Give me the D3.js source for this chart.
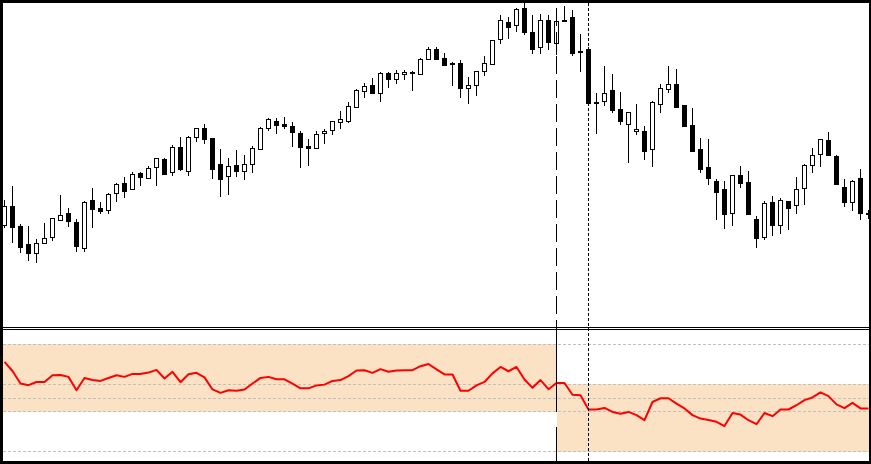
<!DOCTYPE html>
<html><head><meta charset="utf-8">
<script src="https://cdn.jsdelivr.net/npm/d3@7"></script>
<style>html,body{margin:0;padding:0;background:#fff;} svg{display:block;}</style>
</head><body><svg id="c" width="871" height="464"></svg>
<script>
// ---- data (price in chart points, oscillator in %) ----
const bars = d3.range(109);
const open = [105,124,104,86,77,87,93,110,117,108,
  82,130,122,120,137,147,141,157,152,163,
  171,158,183,159,193,202,192,166,154,165,
  159,166,181,202,209,206,204,197,184,182,
  197,200,208,209,223,239,245,237,257,251,
  256,258,256,271,281,272,267,267,242,245,
  259,266,291,308,305,322,298,283,310,287,
  310,313,279,281,228,229,240,221,206,199,
  199,181,226,241,246,225,205,181,163,149,
  141,117,155,148,111,93,128,105,129,125,
  142,165,176,190,174,143,128,152,117];
const high = [130,144,106,104,91,107,112,135,122,111,
  129,142,128,137,147,153,158,158,164,172,
  172,185,193,194,202,206,192,181,172,180,
  175,184,203,212,212,213,208,199,191,199,
  201,209,219,228,241,247,252,258,258,260,
  260,259,272,283,283,277,268,270,253,259,
  274,290,315,313,322,327,315,316,315,321,
  324,320,296,283,237,264,256,238,218,226,
  204,229,246,264,261,225,222,192,191,151,
  149,155,164,159,114,129,134,132,129,153,
  166,182,191,198,175,151,150,161,120];
const low = [102,87,77,69,67,86,89,110,103,78,
  78,102,116,116,128,132,140,144,152,144,
  156,154,159,154,188,186,151,133,135,153,
  150,157,180,199,196,201,183,162,164,181,
  186,195,201,207,223,232,237,228,242,246,
  250,239,256,271,271,265,244,232,226,234,
  254,265,286,291,298,295,276,276,280,275,
  309,274,258,227,196,224,217,205,167,195,
  170,163,217,237,222,203,178,157,145,110,
  101,104,142,115,82,90,94,96,100,116,
  125,157,163,175,146,123,119,110,111];
const close = [124,103,83,77,87,92,112,115,109,84,
  128,121,119,136,146,139,156,153,162,172,
  156,183,161,193,202,191,161,151,164,159,
  166,182,202,211,205,204,198,183,182,196,
  199,209,211,224,240,244,237,257,251,257,
  258,257,271,281,271,265,266,242,245,259,
  267,290,310,303,321,298,281,310,288,309,
  309,277,278,227,227,237,220,209,218,201,
  179,228,242,246,223,204,179,161,152,138,
  116,155,147,116,92,127,105,130,122,141,
  165,175,191,175,146,128,149,117,116];
const osc = [63.5,60.1,55.4,54.8,56.0,56.0,58.5,58.6,57.9,52.9,
  57.5,56.7,56.4,57.5,58.5,57.9,59.0,59.0,59.5,60.5,
  57.3,59.8,55.9,58.9,59.4,57.7,53.2,51.9,52.9,52.7,
  53.2,55.4,57.5,57.9,57.0,57.0,55.4,53.6,53.6,54.7,
  55.0,56.4,56.7,58.2,60.3,60.4,59.4,60.8,59.8,60.3,
  60.4,60.4,61.9,62.7,60.7,58.8,58.8,52.7,52.7,54.7,
  56.0,59.2,61.6,60.0,61.6,56.9,53.8,56.7,53.3,55.6,
  55.6,51.2,51.0,45.7,45.7,46.3,44.8,44.1,44.8,43.6,
  41.7,48.5,49.9,49.9,47.9,46.1,43.6,42.3,41.8,41.1,
  39.5,44.4,43.8,41.7,40.2,44.4,43.2,45.7,45.7,47.3,
  49.2,50.2,52.1,50.7,47.6,46.2,48.2,46.1,46.1];
const levels = [70, 55, 50, 45, 30];
const zoneFrom = [0, 69];
const zoneLo = [45, 30];
const zoneHi = [70, 55];
const dashedBar = 69;
const dottedBar = 73;

// ---- layout ----
const L = 3, R = 869, T = 3, mainB = 327, subT = 330, subB = 461;
const svg = d3.select("#c");

const x = d3.scaleBand().domain(bars).range([0.5, 0.5 + 8 * bars.length]).padding(0);
const cx = i => x(i) + x.bandwidth() / 2;
const y = d3.scaleLinear().domain([0, 327]).range([330, 3]);
const yo = d3.scaleLinear().domain([30, 70]).range([451.5, 344.5]);
const px = v => Math.floor(v) + 0.5;

const defs = svg.append("defs");
defs.append("clipPath").attr("id", "cm").append("rect").attr("x", L).attr("y", T).attr("width", R - L).attr("height", mainB - T);
defs.append("clipPath").attr("id", "cs").append("rect").attr("x", L).attr("y", subT).attr("width", R - L).attr("height", subB - subT);

// ---- sub panel ----
const sub = svg.append("g").attr("clip-path", "url(#cs)");
zoneFrom.forEach((f, i) => {
  const x0 = i === 0 ? L : cx(f);
  const x1 = i + 1 < zoneFrom.length ? cx(zoneFrom[i + 1]) : R;
  sub.append("rect").attr("x", x0).attr("width", x1 - x0)
    .attr("y", Math.floor(yo(zoneHi[i]))).attr("height", Math.floor(yo(zoneLo[i])) - Math.floor(yo(zoneHi[i])) + 1)
    .attr("fill", "#fce2c4").attr("shape-rendering", "crispEdges");
});
sub.selectAll("line.lvl").data(levels).join("line").attr("class", "lvl")
  .attr("x1", L).attr("x2", R).attr("y1", d => px(yo(d))).attr("y2", d => px(yo(d)))
  .attr("stroke", "#c0c0c0").attr("stroke-width", 1).attr("stroke-dasharray", "3,2")
  .attr("shape-rendering", "crispEdges");

// ---- main panel candles ----
const main = svg.append("g").attr("clip-path", "url(#cm)");
const cg = main.selectAll("g.c").data(bars).join("g").attr("class", "c");
cg.append("line").attr("x1", cx).attr("x2", cx)
  .attr("y1", i => y(high[i])).attr("y2", i => y(low[i]))
  .attr("stroke", "#000").attr("shape-rendering", "crispEdges");
cg.append("rect")
  .attr("x", i => cx(i) - 2).attr("width", 4)
  .attr("y", i => y(Math.max(open[i], close[i])) + 0.5)
  .attr("height", i => Math.abs(y(open[i]) - y(close[i])))
  .attr("fill", i => close[i] > open[i] ? "#fff" : "#000")
  .attr("stroke", "#000").attr("stroke-width", 1).attr("shape-rendering", "crispEdges");

// ---- vertical markers ----
svg.append("line").attr("x1", cx(dashedBar)).attr("x2", cx(dashedBar)).attr("y1", 8).attr("y2", mainB + 3)
  .attr("stroke", "#000").attr("stroke-dasharray", "18,6").attr("shape-rendering", "crispEdges");
svg.append("line").attr("x1", cx(dashedBar)).attr("x2", cx(dashedBar)).attr("y1", subT).attr("y2", subB)
  .attr("stroke", "#000").attr("stroke-dasharray", "82,15,100").attr("shape-rendering", "crispEdges");
svg.append("line").attr("x1", cx(dottedBar)).attr("x2", cx(dottedBar)).attr("y1", T).attr("y2", subB)
  .attr("stroke", "#000").attr("stroke-dasharray", "3,2").attr("shape-rendering", "crispEdges");

// ---- oscillator line ----
sub.append("path").datum(bars)
  .attr("d", d3.line().x(i => cx(i)).y(i => yo(osc[i])))
  .attr("fill", "none").attr("stroke", "#ff0000").attr("stroke-width", 2)
  .attr("stroke-linejoin", "round");

// ---- separators and frame ----
[327.5, 329.5].forEach(v => svg.append("line").attr("x1", L).attr("x2", R).attr("y1", v).attr("y2", v)
  .attr("stroke", "#000").attr("shape-rendering", "crispEdges"));
svg.append("rect").attr("x", 0).attr("y", 0).attr("width", 871).attr("height", 3).attr("fill", "#000");
svg.append("rect").attr("x", 0).attr("y", 0).attr("width", 3).attr("height", 464).attr("fill", "#000");
svg.append("rect").attr("x", R).attr("y", 0).attr("width", 871 - R).attr("height", 464).attr("fill", "#000");
svg.append("rect").attr("x", 0).attr("y", subB).attr("width", 871).attr("height", 464 - subB).attr("fill", "#000");
</script></body></html>
